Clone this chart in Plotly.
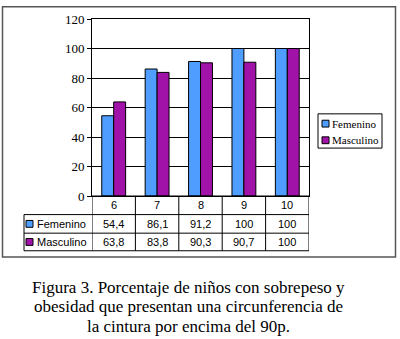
import plotly.graph_objects as go

categories = ["6", "7", "8", "9", "10"]
femenino = [54.4, 86.1, 91.2, 100, 100]
masculino = [63.8, 83.8, 90.3, 90.7, 100]
series_names = ["Femenino", "Masculino"]
y_ticks = [0, 20, 40, 60, 80, 100, 120]
caption_lines = [
    "Figura 3. Porcentaje de niños con sobrepeso y",
    "obesidad que presentan una circunferencia de",
    "la cintura por encima del 90p.",
]

BLUE = "#4F9DFF"
PURPLE = "#A112A9"
colors = [BLUE, PURPLE]

W, H = 400, 339
L, R, T, B = 92, 309, 15, 196


def X(px):
    return (px - L) / (R - L)


def Y(py):
    return (B - py) / (B - T)


def fmt(v):
    if float(v).is_integer():
        return str(int(v))
    return str(v).replace(".", ",")


fig = go.Figure()
for name, vals, c in zip(series_names, [femenino, masculino], colors):
    fig.add_trace(go.Bar(
        x=categories, y=vals, name=name,
        marker=dict(color=c, line=dict(color="black", width=1)),
        showlegend=False, hoverinfo="skip",
    ))

shapes = []
annotations = []

# outer frame
shapes.append(dict(type="rect", xref="paper", yref="paper",
                   x0=X(2.5), x1=X(395.5), y0=Y(2.5), y1=Y(258.5),
                   line=dict(color="#555", width=1.5)))

# table lines
row_y = [196, 215, 234, 252]
line_style = dict(color="black", width=1)
shapes.append(dict(type="line", xref="paper", yref="paper",
                   x0=X(L), x1=X(R), y0=Y(row_y[0]), y1=Y(row_y[0]), line=line_style))
for ry in row_y[1:]:
    shapes.append(dict(type="line", xref="paper", yref="paper",
                       x0=X(24), x1=X(R), y0=Y(ry), y1=Y(ry), line=line_style))
for i in range(len(categories) + 1):
    shapes.append(dict(type="line", xref="x", yref="paper",
                       x0=i - 0.5, x1=i - 0.5, y0=Y(196), y1=Y(252), line=line_style))
shapes.append(dict(type="line", xref="paper", yref="paper",
                   x0=X(24), x1=X(24), y0=Y(215), y1=Y(252), line=line_style))

sans = dict(family="Liberation Sans, Arial", size=11, color="black")
serif = "Liberation Serif, Times New Roman"

for i, c in enumerate(categories):
    annotations.append(dict(x=i, xref="x", y=Y(205.5), yref="paper", text=c,
                            showarrow=False, font=sans, xanchor="center", yanchor="middle"))
row_centers = [224.5, 243]
for rc, name, vals, col in zip(row_centers, series_names, [femenino, masculino], colors):
    for i, v in enumerate(vals):
        annotations.append(dict(x=i, xref="x", y=Y(rc), yref="paper", text=fmt(v),
                                showarrow=False, font=sans, xanchor="center", yanchor="middle"))
    shapes.append(dict(type="rect", xref="paper", yref="paper",
                       x0=X(26), x1=X(33), y0=Y(rc - 3.5), y1=Y(rc + 3.5),
                       fillcolor=col, line=dict(color="black", width=1)))
    annotations.append(dict(x=X(35), xref="paper", y=Y(rc), yref="paper", text=name,
                            showarrow=False, font=sans, xanchor="left", yanchor="middle"))

# legend box
shapes.append(dict(type="rect", xref="paper", yref="paper",
                   x0=X(318), x1=X(382), y0=Y(112), y1=Y(147),
                   line=dict(color="black", width=1)))
leg_centers = [122, 139]
for lc, name, col in zip(leg_centers, series_names, colors):
    shapes.append(dict(type="rect", xref="paper", yref="paper",
                       x0=X(322), x1=X(329), y0=Y(lc - 3.5), y1=Y(lc + 3.5),
                       fillcolor=col, line=dict(color="black", width=1)))
    annotations.append(dict(x=X(330), xref="paper", y=Y(lc), yref="paper", text=name,
                            showarrow=False, font=dict(family=serif, size=11, color="black"),
                            xanchor="left", yanchor="middle"))

# caption
cap_centers = [290, 309.5, 329]
for cy, line in zip(cap_centers, caption_lines):
    annotations.append(dict(x=X(188), xref="paper", y=Y(cy), yref="paper", text=line,
                            showarrow=False, font=dict(family=serif, size=17, color="black"),
                            xanchor="center", yanchor="middle"))

fig.update_layout(
    width=W, height=H,
    margin=dict(l=L, r=W - R, t=T, b=H - B, pad=0),
    paper_bgcolor="white", plot_bgcolor="white",
    barmode="group", bargap=0.45, bargroupgap=0,
    shapes=shapes, annotations=annotations,
    hovermode=False,
    xaxis=dict(showticklabels=False, showgrid=False, zeroline=False,
               showline=True, mirror=True, linecolor="black", linewidth=1,
               ticks="", range=[-0.5, 4.5], fixedrange=True),
    yaxis=dict(range=[0, 120], tickvals=y_ticks, showgrid=True, gridcolor="black",
               gridwidth=1, zeroline=False, showline=True, mirror=True,
               linecolor="black", linewidth=1, ticks="outside", ticklen=4,
               tickcolor="black", fixedrange=True,
               tickfont=dict(family=serif, size=13, color="black")),
)

fig.write_html("out.html", config={"displayModeBar": False},
               post_script="document.body.style.margin='0';document.body.style.padding='0';")
